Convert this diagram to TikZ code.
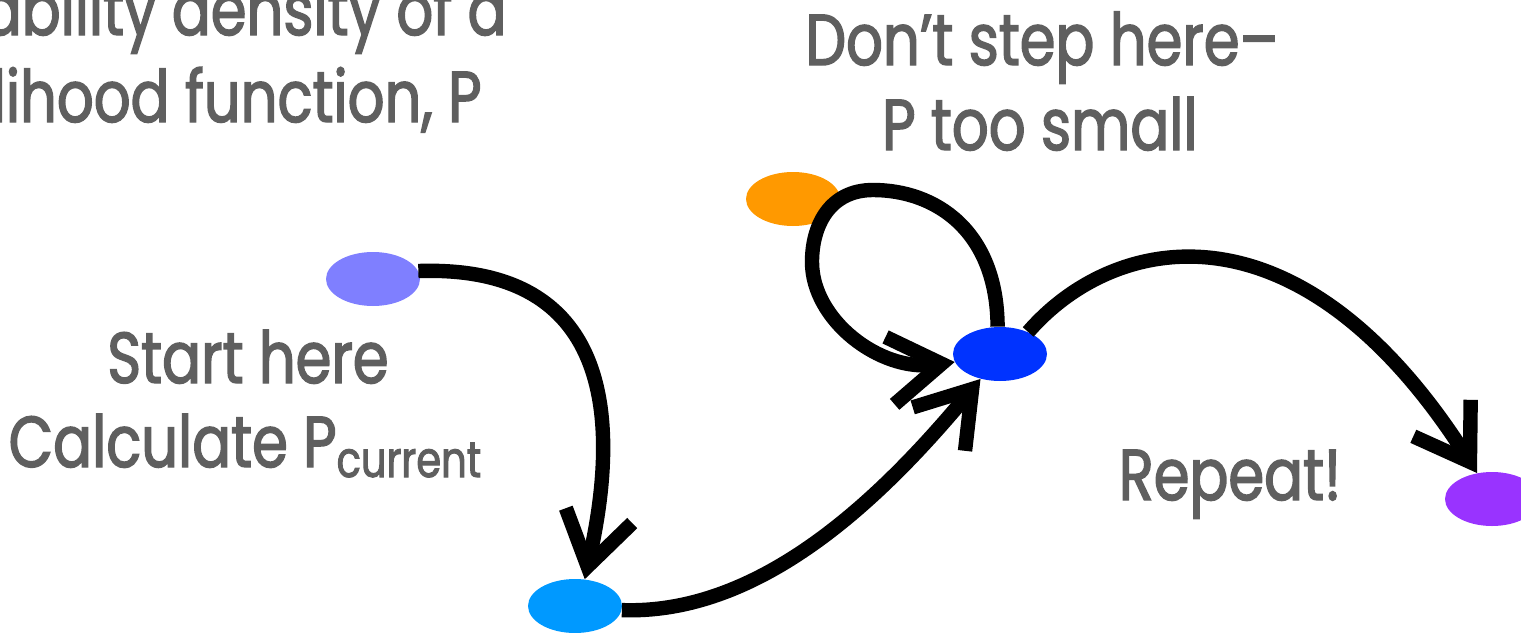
\documentclass[tikz,border=0pt]{standalone}
\usepackage{fontspec}
\setmainfont{Poppins}[FakeStretch=0.8,FakeBold=2]
\usetikzlibrary{arrows.meta,shapes.geometric}
\definecolor{txtgray}{HTML}{5F5F5F}
\definecolor{startc}{HTML}{7F7FFF}
\definecolor{firstc}{HTML}{0099FF}
\definecolor{rejectc}{HTML}{FF9900}
\definecolor{nowc}{HTML}{0033FF}
\definecolor{nextc}{HTML}{9933FF}

\begin{document}
\begin{tikzpicture}[x=0.5pt,y=-0.5pt,
  spot/.style={ellipse,minimum width=47pt,minimum height=27pt,inner sep=0pt},
  jump/.style={line width=7.2pt,-{Straight Barb[length=26pt,width=34pt]}},
  lbl/.style={text=txtgray,font=\fontsize{36}{42}\selectfont,inner sep=0pt}]
\useasboundingbox (0,0) rectangle (1521,632);
\clip (0,0) rectangle (1521,632);
\node[lbl,anchor=base east] (title1) at (507,35) {Probability density of a};
\node[lbl,anchor=base east] (title2) at (482,122) {likelihood function, P};
\node[lbl,anchor=base] (start1) at (248,383) {Start here};
\node[lbl,anchor=base] (start2) at (245,467) {Calculate P\raisebox{-5pt}{\fontsize{25}{25}\selectfont current}};
\node[lbl,anchor=base] (stay1) at (1042,65) {Don’t step here–};
\node[lbl,anchor=base] (stay2) at (1040,150) {P too small};
\node[lbl,anchor=base] (again) at (1230,500) {Repeat!};
\node[spot,fill=startc] (start) at (373,279) {};
\node[spot,fill=firstc] (first) at (575,606) {};
\node[spot,fill=rejectc] (reject) at (793,199) {};
\node[spot,fill=nowc] (now) at (1000,354) {};
\node[spot,fill=nextc] (next) at (1492,499) {};
\draw[jump] (start.10) .. controls (600,265) and (625,400) .. (first.70);
\draw[jump] (first.-5) .. controls (760,615) and (880,500) .. (now.-128);
\draw[jump] (now.95) .. controls (997,230) and (935,190) .. (873,190)
  .. controls (830,190) and (812,225) .. (812,262)
  .. controls (812,320) and (880,372) .. (now.190);
\draw[jump] (now.38) .. controls (1115,232) and (1300,195) .. (next.120);
\end{tikzpicture}
\end{document}
